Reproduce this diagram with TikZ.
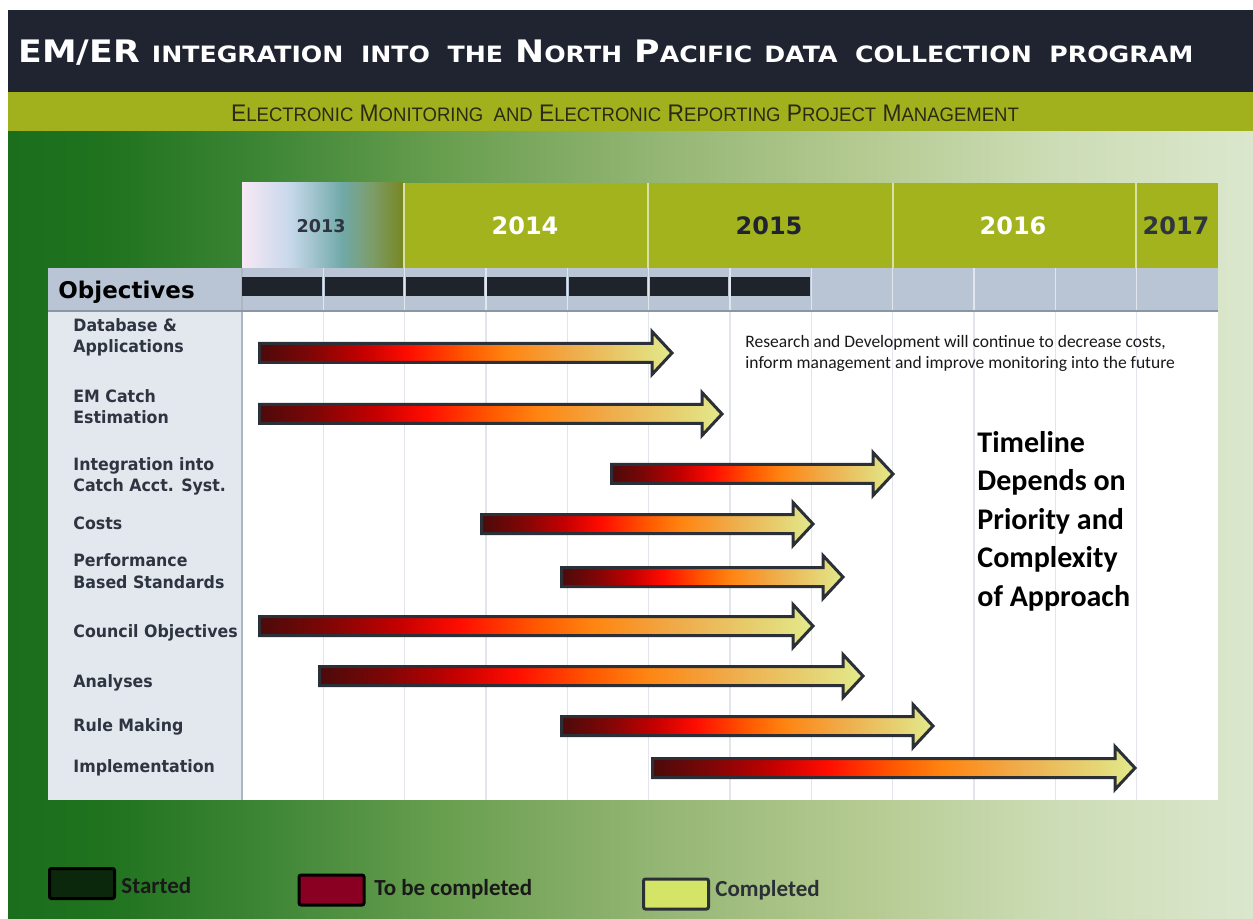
\documentclass[tikz,border=0pt]{standalone}
\usepackage{fontspec}
\setmainfont{DejaVu Sans}
\newfontfamily\vfont{DejaVu Sans}
\newfontfamily\vwide[FakeStretch=1.12]{DejaVu Sans}
\newfontfamily\vnarrow[FakeStretch=0.93]{DejaVu Sans}
\newfontfamily\subfont[FakeStretch=0.95]{Liberation Sans}
\newfontfamily\calfont{Carlito}
\definecolor{titlebg}{HTML}{1F2430}
\definecolor{subbg}{HTML}{A0B11D}
\definecolor{subtext}{HTML}{2B2B14}
\definecolor{yearbg}{HTML}{A2B31E}
\definecolor{hdrsep}{HTML}{D8E0A8}
\definecolor{objbg}{HTML}{B9C5D5}
\definecolor{objline}{HTML}{8B96A4}
\definecolor{labbg}{HTML}{E3E8EF}
\definecolor{gridc}{HTML}{E2E6EC}
\definecolor{barblack}{HTML}{1F232B}
\definecolor{labtext}{HTML}{2F3540}
\definecolor{arrowedge}{HTML}{2B3038}
\definecolor{gA}{HTML}{1B6E1C}
\definecolor{gB}{HTML}{1F721E}
\definecolor{gC}{HTML}{3A8434}
\definecolor{gD}{HTML}{6A9F50}
\definecolor{gE}{HTML}{93B573}
\definecolor{gF}{HTML}{B3C98F}
\definecolor{gG}{HTML}{CCDCB5}
\definecolor{gH}{HTML}{DBE7CD}
\definecolor{aA}{HTML}{4C0A0A}
\definecolor{aB}{HTML}{7E0606}
\definecolor{aC}{HTML}{C40000}
\definecolor{aD}{HTML}{FF0C00}
\definecolor{aE}{HTML}{FF5800}
\definecolor{aF}{HTML}{FF8410}
\definecolor{aG}{HTML}{F0AA48}
\definecolor{aH}{HTML}{E6D070}
\definecolor{aI}{HTML}{E2EA8C}
\definecolor{tA}{HTML}{F8E8F5}
\definecolor{tB}{HTML}{C6D8EB}
\definecolor{tC}{HTML}{70A9A7}
\definecolor{tD}{HTML}{7D9D6A}
\definecolor{tE}{HTML}{77861F}
\definecolor{legdark}{HTML}{0C280C}
\definecolor{legred}{HTML}{8A0022}
\definecolor{legyel}{HTML}{D4E466}
\definecolor{legedge}{HTML}{2A3036}
\pgfdeclarehorizontalshading{bggrad}{100bp}{color(0bp)=(gA); color(25bp)=(gA); color(28.7bp)=(gB); color(34.7bp)=(gC); color(42.75bp)=(gD); color(50.8bp)=(gE); color(58.85bp)=(gF); color(66.85bp)=(gG); color(75bp)=(gH); color(100bp)=(gH)}
\pgfdeclarehorizontalshading{arrowgrad}{100bp}{color(0bp)=(aA); color(25bp)=(aA); color(31bp)=(aB); color(37.5bp)=(aC); color(43bp)=(aD); color(50bp)=(aE); color(55bp)=(aF); color(62.5bp)=(aG); color(70bp)=(aH); color(75bp)=(aI); color(100bp)=(aI)}
\pgfdeclarehorizontalshading{yeargrad}{100bp}{color(0bp)=(tA); color(25bp)=(tA); color(40bp)=(tB); color(56bp)=(tC); color(65bp)=(tD); color(75bp)=(tE); color(100bp)=(tE)}
\newcommand\tsc[1]{{\fontsize{11.25}{11}\selectfont #1}}
\newcommand\ssc[1]{{\fontsize{9.75}{10}\selectfont #1}}
\newcommand\ganttbar[3]{%
  \draw[ganttarrow] ({#2+1.5},{#1-9.5}) -- ({#3-22},{#1-9.5}) -- ({#3-22},{#1-21.5})
    -- ({#3-2},{#1}) -- ({#3-22},{#1+21.5}) -- ({#3-22},{#1+9.5}) -- ({#2+1.5},{#1+9.5}) -- cycle;}
\tikzset{
  ganttarrow/.style={shade, shading=arrowgrad, draw=arrowedge, line width=1.5pt, line join=miter},
  gridline/.style={draw=gridc, line width=0.75pt},
  hdrline/.style={draw=hdrsep, line width=0.75pt},
  yearlab/.style={inner sep=0, font=\vfont\bfseries\fontsize{12}{12}\selectfont},
  objlab/.style={anchor=base west, inner sep=0, align=left, text=labtext,
    font=\vnarrow\bfseries\fontsize{8.5}{10.75}\selectfont},
  legbox/.style={draw=black, line width=1.5pt, rounded corners=1pt, minimum width=32.5pt, minimum height=15pt, inner sep=0},
  legtext/.style={anchor=base west, inner sep=0, font=\calfont\bfseries\fontsize{11.5}{11.5}\selectfont}
}
\begin{document}
\begin{tikzpicture}[x=0.5pt,y=-0.5pt]
\useasboundingbox (0,0) rectangle (1253,919);
\fill[white] (0,0) rectangle (1253,919);
% bands
\fill[titlebg] (8,10) rectangle (1253,92);
\fill[subbg] (8,92) rectangle (1253,132);
\shade[shading=bggrad] (8,132) rectangle (1253,919);
\node[anchor=base west, inner sep=0, text=white, font=\vwide\bfseries\fontsize{15.5}{18}\selectfont] (title) at (18,63)
  {EM/ER \tsc{INTEGRATION\ \ INTO\ \ THE} N\tsc{ORTH} P\tsc{ACIFIC} \tsc{DATA\ \ COLLECTION\ \ PROGRAM}};
\node[anchor=base, inner sep=0, text=subtext, font=\subfont\fontsize{12}{12}\selectfont] (subtitle) at (625,122)
  {E\ssc{LECTRONIC} M\ssc{ONITORING\ \ AND} E\ssc{LECTRONIC} R\ssc{EPORTING} P\ssc{ROJECT} M\ssc{ANAGEMENT}};
% year header
\fill[yearbg] (242,183) rectangle (1218,268);
\shade[shading=yeargrad] (242,183) rectangle (404,268);
\foreach \xx in {404,648,893,1136} \draw[hdrline] (\xx,183) -- (\xx,268);
\node[yearlab, text=labtext, font=\vfont\bfseries\fontsize{8.8}{9}\selectfont] (y2013) at (321,226) {2013};
\node[yearlab, text=white] (y2014) at (525,226) {2014};
\node[yearlab, text=titlebg] (y2015) at (769,226) {2015};
\node[yearlab, text=white] (y2016) at (1013,226) {2016};
\node[yearlab, text=labtext] (y2017) at (1176,226) {2017};
% objectives row and table body
\fill[objbg] (48,268) rectangle (1218,311);
\fill[labbg] (48,311) rectangle (242,800);
\fill[white] (242,311) rectangle (1218,800);
\foreach \k in {1,...,11} \draw[gridline] ({242+\k*81.33},268) -- ({242+\k*81.33},800);
\draw[draw=objbg!80!gray, line width=0.75pt] (242,268) -- (242,800);
\draw[draw=objline, line width=1pt] (48,311) -- (1218,311);
\foreach \k in {0,...,6} \fill[barblack] ({242+\k*81.33+(\k>0?1.5:0)},277) rectangle ({242+(\k+1)*81.33-1.5},296);
\node[anchor=base west, inner sep=0, text=black, font=\vfont\bfseries\fontsize{11.5}{12}\selectfont] (objectives) at (58,299) {Objectives};
% objective labels (base = last line)
\node[objlab] (lab1) at (73,353) {Database \&\\Applications};
\node[objlab] (lab2) at (73,424) {EM Catch\\Estimation};
\node[objlab] (lab3) at (73,492) {Integration into\\Catch Acct. Syst.};
\node[objlab] (lab4) at (73,530) {Costs};
\node[objlab] (lab5) at (73,588) {Performance\\Based Standards};
\node[objlab] (lab6) at (73,637) {Council Objectives};
\node[objlab] (lab7) at (73,687) {Analyses};
\node[objlab] (lab8) at (73,731) {Rule Making};
\node[objlab] (lab9) at (73,772) {Implementation};
% gantt arrows
\ganttbar{353}{258}{674}
\ganttbar{414}{258}{724}
\ganttbar{474}{610}{895}
\ganttbar{524}{480}{815}
\ganttbar{577}{560}{845}
\ganttbar{626}{258}{815}
\ganttbar{676}{318}{865}
\ganttbar{726}{560}{935}
\ganttbar{768}{651}{1137}
% notes
\node[anchor=base west, inner sep=0, align=left, text=black!90, font=\calfont\fontsize{8.75}{10.5}\selectfont] (rdnote) at (745,369)
  {Research and Development will continue to decrease costs,\\inform management and improve monitoring into the future};
\node[anchor=base west, inner sep=0, align=left, text=black, font=\calfont\bfseries\fontsize{15}{19.25}\selectfont] (timeline) at (977,606)
  {Timeline\\Depends on\\Priority and\\Complexity\\of Approach};
% legend
\node[legbox, fill=legdark] (legstarted) at (82,883.5) {};
\node[legtext, text=black!90] (txtstarted) at (121,893) {Started};
\node[legbox, fill=legred] (legtobe) at (331.5,890) {};
\node[legtext, text=black!90] (txttobe) at (374,895) {To be completed};
\node[legbox, fill=legyel, draw=legedge] (legdone) at (676,894) {};
\node[legtext, text=legedge] (txtdone) at (715,896) {Completed};
\end{tikzpicture}
\end{document}
